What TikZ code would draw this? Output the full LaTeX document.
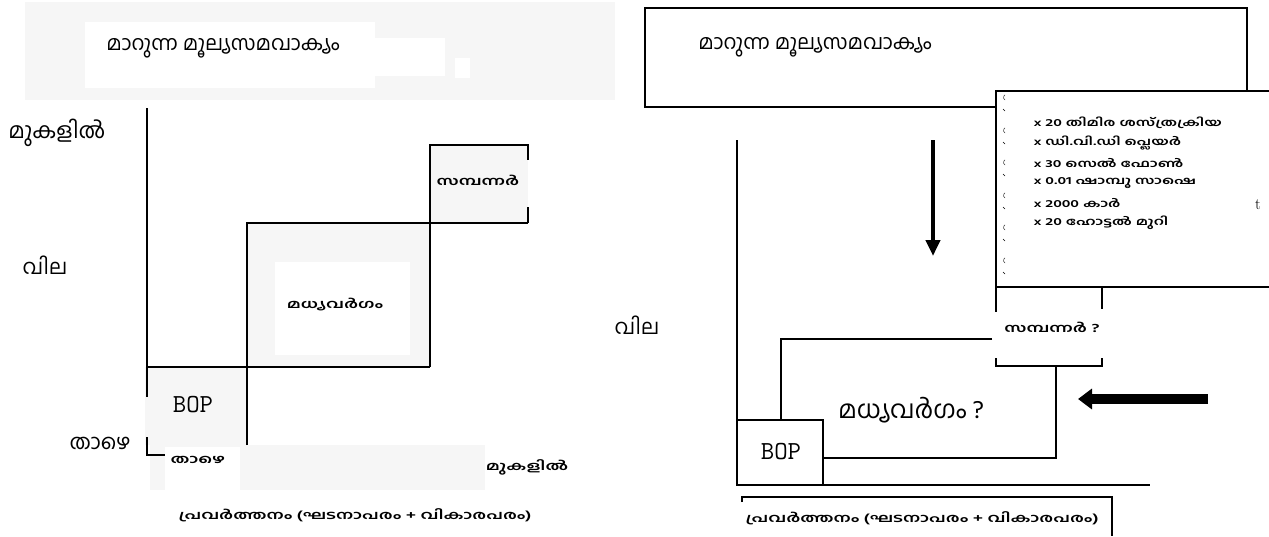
\documentclass[tikz,border=0pt]{standalone}
\usepackage{fontspec}
\newfontfamily\mlfont[Script=Malayalam]{Hind Kochi}
\newfontfamily\mlwide[Script=Malayalam,FakeStretch=1.5]{Hind Kochi}
\usetikzlibrary{positioning,arrows.meta}
\definecolor{panelgray}{HTML}{F6F6F6}
\tikzset{
  mlbig/.style={font=\mlfont\fontsize{20.5}{21}\selectfont},
  mlaxis/.style={font=\mlfont\fontsize{21}{22}\selectfont},
  mlsmall/.style={font=\mlwide\bfseries\fontsize{12}{12}\selectfont},
  mllist/.style={font=\mlwide\bfseries\fontsize{10.5}{11}\selectfont},
  boplabel/.style={font=\ttfamily\fontsize{26}{26}\selectfont},
  chart/.style={line width=1.3pt},
  fatarrow/.style={line width=#1}
}

\begin{document}
\begin{tikzpicture}[x=1pt,y=-1pt]
  \useasboundingbox (0,0) rectangle (1269,536);

  % left picture
  \fill[panelgray] (25,2) rectangle (615,100);
  \fill[white] (85,22) rectangle (375,88);
  \fill[white] (375,38) rectangle (445,76);
  \fill[white] (455,58) rectangle (470,78);
  \node[mlbig] (a0) at (223,48) {മാറുന്ന മൂല്യസമവാക്യം};

  \fill[panelgray] (430,145) rectangle (528,223);
  \fill[panelgray] (247,223) rectangle (430,367);
  \fill[white] (275,262) rectangle (410,355);
  \fill[panelgray] (145,367) rectangle (247,445);
  \fill[panelgray] (150,445) rectangle (485,490);
  \fill[white] (165,447) rectangle (240,490);

  \node[mlaxis,font=\mlfont\fontsize{22}{22}\selectfont] (a1) at (57,133) {മുകളിൽ};
  \node[mlaxis] (a2) at (45,265) {വില};
  \node[mlaxis] (a3) at (100,443) {താഴെ};
  \node[boplabel] (a4) at (193,405) {BOP};
  \node[mlsmall] (a5) at (335,305) {മധ്യവർഗം};
  \node[mlsmall] (a6) at (478,180) {സമ്പന്നർ};
  \node[mlsmall] (a7) at (198,460) {താഴെ};
  \node[mlsmall] (a8) at (527,467) {മുകളിൽ};
  \node[mlsmall] (a9) at (355,515) {പ്രവർത്തനം (ഘടനാപരം + വികാരപരം)};

  \draw[chart] (147,108) -- (147,397);
  \draw[chart] (147,437) -- (147,455) -- (165,455);
  \draw[chart] (147,367) -- (430,367);
  \draw[chart] (247,445) -- (247,223) -- (528,223);
  \draw[chart] (430,367) -- (430,145) -- (528,145) -- (528,160);
  \draw[chart] (528,207) -- (528,223);

  % right picture
  \draw[chart] (645,8) rectangle (1247,107);
  \node[mlbig] (b0) at (815,47) {മാറുന്ന മൂല്യസമവാക്യം};

  \fill[white] (996,91) rectangle (1269,287);
  \draw[chart] (1269,91) -- (996,91) -- (996,287) -- (1269,287);
  \foreach \k/\txt in {0/x 20 തിമിര ശസ്ത്രക്രിയ,1/x ഡി.വി.ഡി പ്ലെയർ,2/x 30 സെൽ ഫോൺ,
                       3/x 0.01 ഷാമ്പൂ സാഷെ,4/x 2000 കാർ,5/x 20 ഹോട്ടൽ മുറി}
    \node[mllist,anchor=west] (c\k) at (1030,123+20*\k) {\txt};
  \foreach \y in {100,133,165,198,230,263}{
    \draw[thin] (1005,\y) arc (120:240:3);
    \draw[thin] (1003,\y+9) -- (1005,\y+11);
  }
  \node[font=\fontsize{16}{16}\selectfont] (b9) at (1258,205) {t};

  \node[mlaxis] (b1) at (637,325) {വില};
  \node[mlsmall] (b2) at (1052,327) {സമ്പന്നർ ?};
  \node[mlbig,font=\mlfont\fontsize{25}{25}\selectfont] (b3) at (911,410) {മധ്യവർഗം ?};
  \node[boplabel] (b4) at (781,452) {BOP};
  \node[mlsmall] (b5) at (922,518) {പ്രവർത്തനം (ഘടനാപരം + വികാരപരം)};

  \draw[chart] (737,140) -- (737,485) -- (1150,485);
  \draw[chart] (737,420) -- (823,420) -- (823,485);
  \draw[chart] (992,339) -- (781,339) -- (781,420);
  \draw[chart] (823,458) -- (1056,458) -- (1056,366);
  \draw[chart] (996,287) -- (996,312);
  \draw[chart] (996,358) -- (996,366) -- (1102,366) -- (1102,358);
  \draw[chart] (1102,287) -- (1102,309);
  \draw[chart] (742,502) -- (742,497) -- (1112,497) -- (1112,536);

  \coordinate (d0) at (933,140);
  \coordinate (d1) at (933,256);
  \coordinate (e0) at (1208,399);
  \coordinate (e1) at (1078,399);
  \draw[fatarrow=4pt,-{Triangle[width=14pt,length=16pt]}] (d0) -- (d1);
  \draw[fatarrow=10pt,-{Triangle[width=20pt,length=14pt]}] (e0) -- (e1);

\end{tikzpicture}
\end{document}
